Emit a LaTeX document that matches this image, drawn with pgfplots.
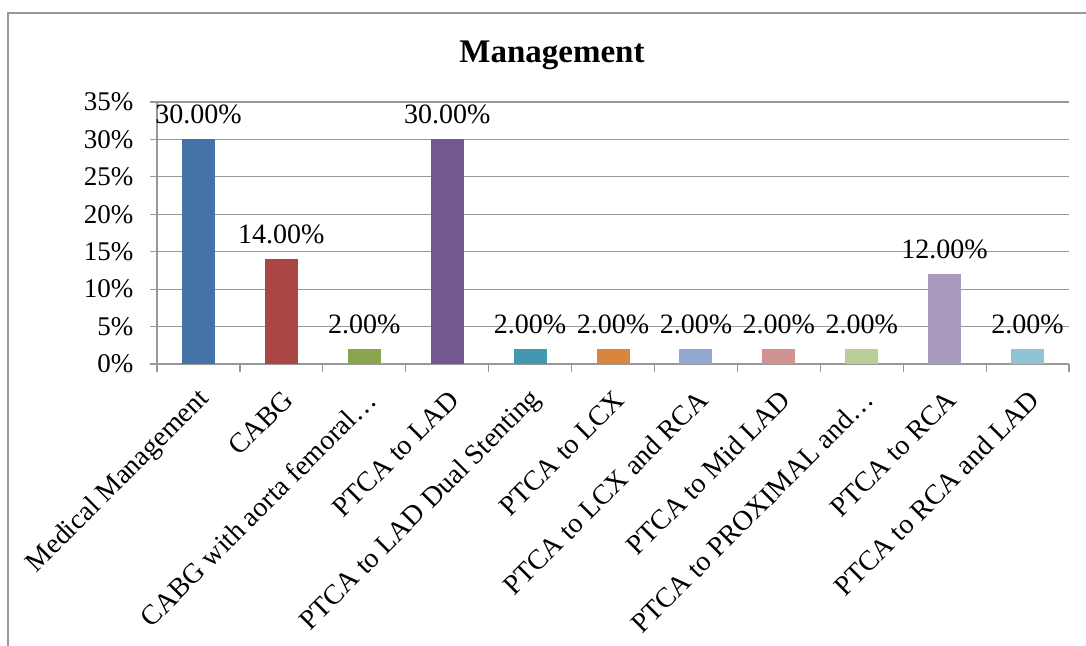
\documentclass[border=0pt]{standalone}
\usepackage{pgfplots}
\pgfplotsset{compat=1.18}
\usepackage{fontspec}
\setmainfont{Liberation Serif}
\definecolor{c1}{HTML}{4572A7}
\definecolor{c2}{HTML}{AA4643}
\definecolor{c3}{HTML}{89A54E}
\definecolor{c4}{HTML}{71588F}
\definecolor{c5}{HTML}{4198AF}
\definecolor{c6}{HTML}{DB843D}
\definecolor{c7}{HTML}{93A9CF}
\definecolor{c8}{HTML}{D19392}
\definecolor{c9}{HTML}{B9CD96}
\definecolor{c10}{HTML}{A99BBD}
\definecolor{c11}{HTML}{92C3D5}
\definecolor{gridgray}{HTML}{989898}
\begin{document}
\begin{tikzpicture}[x=1pt,y=1pt]
\useasboundingbox (0,0) rectangle (1086,645);
\draw[color=gridgray, line width=1.5pt] (8,-20) -- (8,632) -- (1110,632);
\node[font=\fontsize{33}{38}\selectfont\bfseries] at (552,590) {Management};
\begin{axis}[
  at={(157pt,281pt)}, anchor=south west,
  scale only axis, width=912pt, height=262pt,
  xmin=-0.5, xmax=10.5, ymin=0, ymax=35,
  axis x line*=bottom, axis y line*=left,
  axis line style={gridgray, line width=1.2pt, -},
  /pgf/number format/assume math mode=true,
  ytick={0,5,...,35},
  yticklabel={\pgfmathprintnumber{\tick}\%},
  ymajorgrids, grid style={gridgray, line width=1.2pt},
  xtick={0,...,10},
  minor xtick={-0.5,0.5,...,10.5},
  xticklabels={Medical Management, CABG, CABG with aorta femoral…, PTCA to LAD, PTCA to LAD Dual Stenting, PTCA to LCX, PTCA to LCX and RCA, PTCA to Mid LAD, PTCA to PROXIMAL and…, PTCA to RCA, PTCA to RCA and LAD},
  major x tick style={draw=none},
  minor x tick style={gridgray, line width=1.2pt},
  y tick style={gridgray, line width=1.2pt},
  major tick length=7pt, minor tick length=8pt,
  tick align=outside, tick pos=left,
  yticklabel style={font=\fontsize{27}{31}\selectfont, xshift=-13pt},
  xticklabel style={font=\fontsize{28}{32}\selectfont, rotate=45, anchor=east, xshift=-9pt, yshift=-22pt},
  ybar, bar width=33pt,
  every axis plot/.append style={bar shift=0pt, draw=none},
  nodes near coords={\pgfmathprintnumber[fixed,fixed zerofill,precision=2]{\pgfplotspointmeta}\%},
  every node near coord/.append style={font=\fontsize{28}{32}\selectfont, anchor=base, yshift=16pt, text=black},
  clip=false,
]
\addplot[fill=c1] coordinates {(0,30)};
\addplot[fill=c2] coordinates {(1,14)};
\addplot[fill=c3] coordinates {(2,2)};
\addplot[fill=c4] coordinates {(3,30)};
\addplot[fill=c5] coordinates {(4,2)};
\addplot[fill=c6] coordinates {(5,2)};
\addplot[fill=c7] coordinates {(6,2)};
\addplot[fill=c8] coordinates {(7,2)};
\addplot[fill=c9] coordinates {(8,2)};
\addplot[fill=c10] coordinates {(9,12)};
\addplot[fill=c11] coordinates {(10,2)};
\end{axis}
\end{tikzpicture}
\end{document}
